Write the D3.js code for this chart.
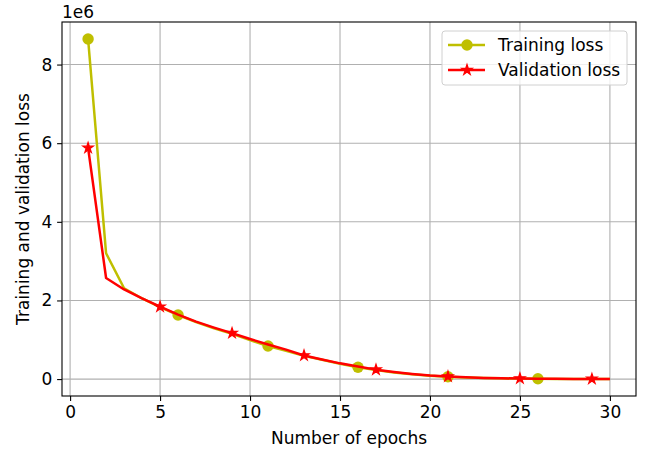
<!DOCTYPE html>
<html>
<head>
<meta charset="utf-8">
<script src="https://cdn.jsdelivr.net/npm/d3@7.9.0/dist/d3.min.js"></script>
<style>
  body { margin: 0; background: #fff; }
  svg { display: block; font-family: "DejaVu Sans", sans-serif; }
</style>
</head>
<body>
<svg id="chart" width="651" height="453"></svg>
<script>
// epochs 1..30
const epochs = d3.range(1, 31);
// losses in units of 1e6
const trainingLoss = [8.65, 3.2, 2.31, 2.05, 1.83, 1.63, 1.45, 1.29, 1.15, 0.99,
  0.84, 0.72, 0.59, 0.49, 0.39, 0.30, 0.23, 0.17, 0.12, 0.085,
  0.06, 0.04, 0.028, 0.018, 0.012, 0.008, 0.005, 0.004, 0.003, 0.002];
const validationLoss = [5.88, 2.57, 2.28, 2.05, 1.84, 1.64, 1.46, 1.31, 1.17, 1.02,
  0.88, 0.75, 0.60, 0.50, 0.40, 0.32, 0.24, 0.18, 0.13, 0.09,
  0.065, 0.045, 0.03, 0.02, 0.015, 0.01, 0.007, 0.005, 0.004, 0.003];
const xTicks = [0, 5, 10, 15, 20, 25, 30];
const yTicks = [0, 2, 4, 6, 8];

const FS = 17; // 12pt-ish like the original
const svg = d3.select("#chart");
const margin = { left: 62, right: 15, top: 22, bottom: 57 };
const W = 651, H = 453;
const innerW = W - margin.left - margin.right;
const innerH = H - margin.top - margin.bottom;

// matplotlib-style 5% margins
const xPad = (30 - 1) * 0.05;
const allY = trainingLoss.concat(validationLoss);
const yMin = d3.min(allY), yMax = d3.max(allY);
const yPad = (yMax - yMin) * 0.05;

const x = d3.scaleLinear().domain([1 - xPad, 30 + xPad]).range([0, innerW]);
const y = d3.scaleLinear().domain([yMin - yPad, yMax + yPad]).range([innerH, 0]);

const g = svg.append("g").attr("transform", `translate(${margin.left},${margin.top})`);

// grid
g.append("g").selectAll("line").data(xTicks).join("line")
  .attr("x1", d => x(d)).attr("x2", d => x(d))
  .attr("y1", 0).attr("y2", innerH)
  .attr("stroke", "#b0b0b0").attr("stroke-width", 1.1);
g.append("g").selectAll("line").data(yTicks).join("line")
  .attr("y1", d => y(d)).attr("y2", d => y(d))
  .attr("x1", 0).attr("x2", innerW)
  .attr("stroke", "#b0b0b0").attr("stroke-width", 1.1);

// axes
const xAxis = g.append("g").attr("transform", `translate(0,${innerH})`)
  .call(d3.axisBottom(x).tickValues(xTicks).tickSize(4.9).tickPadding(4.9));
const yAxis = g.append("g")
  .call(d3.axisLeft(y).tickValues(yTicks).tickSize(4.9).tickPadding(4.9));
[xAxis, yAxis].forEach(a => {
  a.attr("font-size", FS).attr("font-family", "DejaVu Sans, sans-serif");
  a.select(".domain").remove();
  a.selectAll("text").attr("fill", "#000");
  a.selectAll("line").attr("stroke", "#000").attr("stroke-width", 1.1);
});

// lines + markers, drawn per series like matplotlib does
const line = d3.line().x((d, i) => x(epochs[i])).y(d => y(d));
const trainIdx = d3.range(0, 30, 5);  // markevery 5
const valIdx = d3.range(0, 30, 4);    // markevery 4
const star = d3.symbol().type(d3.symbolStar).size(34);

g.append("path").datum(trainingLoss).attr("d", line)
  .attr("fill", "none").attr("stroke", "#bfbf00").attr("stroke-width", 2.5)
  .attr("stroke-linejoin", "round");
g.append("g").selectAll("circle").data(trainIdx).join("circle")
  .attr("cx", i => x(epochs[i])).attr("cy", i => y(trainingLoss[i]))
  .attr("r", 5.7).attr("fill", "#bfbf00");

g.append("path").datum(validationLoss).attr("d", line)
  .attr("fill", "none").attr("stroke", "#ff0000").attr("stroke-width", 2.5)
  .attr("stroke-linejoin", "round");
g.append("g").selectAll("path").data(valIdx).join("path")
  .attr("transform", i => `translate(${x(epochs[i])},${y(validationLoss[i])})`)
  .attr("d", star).attr("fill", "#ff0000").attr("stroke", "#ff0000").attr("stroke-width", 1.2);

// frame
g.append("rect").attr("width", innerW).attr("height", innerH)
  .attr("fill", "none").attr("stroke", "#000").attr("stroke-width", 1.1);

// labels
svg.append("text").attr("x", margin.left + innerW / 2).attr("y", 444)
  .attr("text-anchor", "middle").attr("font-size", FS).text("Number of epochs");
svg.append("text")
  .attr("transform", `translate(29,${margin.top + innerH / 2}) rotate(-90)`)
  .attr("text-anchor", "middle").attr("font-size", FS).text("Training and validation loss");
svg.append("text").attr("x", margin.left).attr("y", 18)
  .attr("font-size", FS).text("1e6");

// legend
const lg = svg.append("g").attr("transform", "translate(442,31)");
lg.append("rect").attr("width", 185).attr("height", 54).attr("rx", 3)
  .attr("fill", "#fff").attr("fill-opacity", 0.8).attr("stroke", "#d0d0d0");
const entries = [
  { label: "Training loss", color: "#bfbf00", marker: "circle" },
  { label: "Validation loss", color: "#ff0000", marker: "star" }
];
entries.forEach((e, k) => {
  const yy = 14 + k * 25;
  lg.append("line").attr("x1", 6).attr("x2", 43).attr("y1", yy).attr("y2", yy)
    .attr("stroke", e.color).attr("stroke-width", 2.5);
  if (e.marker === "circle") {
    lg.append("circle").attr("cx", 25).attr("cy", yy).attr("r", 5.7).attr("fill", e.color);
  } else {
    lg.append("path").attr("transform", `translate(25,${yy})`).attr("d", star)
      .attr("fill", e.color).attr("stroke", e.color).attr("stroke-width", 1.2);
  }
  lg.append("text").attr("x", 56).attr("y", yy + 6).attr("font-size", FS).text(e.label);
});
</script>
</body>
</html>
